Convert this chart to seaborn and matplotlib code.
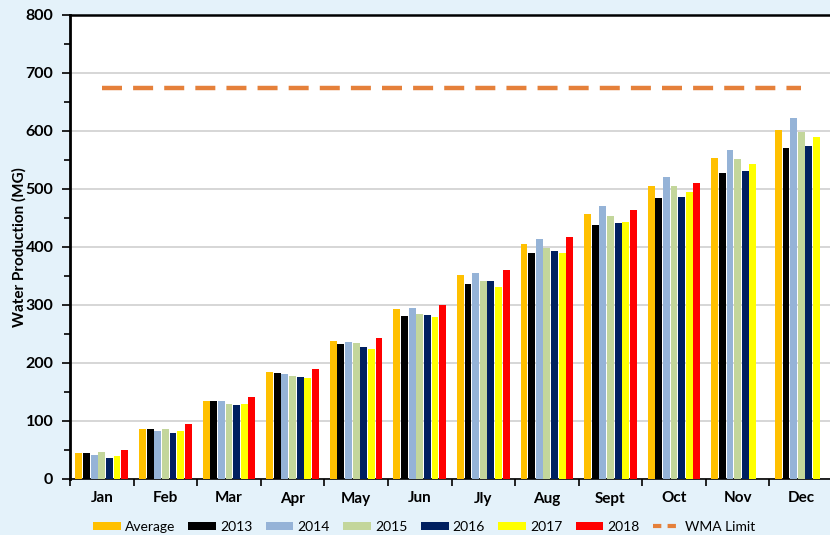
import matplotlib
matplotlib.use("Agg")
import matplotlib.pyplot as plt
import numpy as np
import pandas as pd
import seaborn as sns
from matplotlib.lines import Line2D
from matplotlib.patches import Patch
from matplotlib.ticker import MultipleLocator

months = ["Jan", "Feb", "Mar", "Apr", "May", "Jun", "Jly", "Aug", "Sept", "Oct", "Nov", "Dec"]
series = ["Average", "2013", "2014", "2015", "2016", "2017", "2018"]

average = [44, 87, 135, 185, 238, 293, 351, 406, 457, 506, 553, 601]
y2013 = [45, 86, 135, 183, 233, 281, 337, 389, 438, 484, 527, 570]
y2014 = [42, 83, 134, 181, 237, 294, 355, 414, 470, 520, 568, 623]
y2015 = [46, 87, 130, 177, 234, 285, 342, 399, 454, 505, 552, 599]
y2016 = [37, 79, 128, 176, 228, 283, 341, 393, 441, 486, 531, 575]
y2017 = [40, 83, 129, 175, 225, 279, 331, 389, 443, 494, 543, 589]
y2018 = [50, 95, 141, 189, 243, 300, 361, 418, 464, 511, np.nan, np.nan]

wma_limit = 675

colors = {
    "Average": "#FFC000",
    "2013": "#000000",
    "2014": "#95B3D7",
    "2015": "#C3D69B",
    "2016": "#002060",
    "2017": "#FFFF00",
    "2018": "#FF0000",
}
limit_color = "#E5803A"
bg = "#E4F2FA"

values = [average, y2013, y2014, y2015, y2016, y2017, y2018]
rows = []
for name, vals in zip(series, values):
    for m, v in zip(months, vals):
        rows.append({"month": m, "series": name, "value": v})
df = pd.DataFrame(rows).dropna()

plt.rcParams["font.family"] = ["Lato", "DejaVu Sans"]

fig = plt.figure(figsize=(8.3, 5.35), dpi=100, facecolor=bg)
ax = fig.add_axes([70 / 830, 56 / 535, 763 / 830, 464 / 535])
ax.set_facecolor("white")

sns.barplot(data=df, x="month", y="value", hue="series", order=months,
            hue_order=series, palette=colors, saturation=1, width=0.84, gap=0.1,
            errorbar=None, legend=False, ax=ax, zorder=3)

ax.plot([0, 11], [wma_limit, wma_limit], color=limit_color, lw=3.2,
        ls=(0, (4.5, 2.5)), zorder=4)

ax.set_xlim(-0.5, 11.5)
ax.set_ylim(0, 800)
ax.yaxis.set_major_locator(MultipleLocator(100))
ax.yaxis.set_minor_locator(MultipleLocator(50))
ax.grid(axis="y", which="major", color="#D0D0D0", lw=1.2, zorder=0)
ax.set_axisbelow(True)

ax.set_xticks(range(len(months)))
ax.set_xticklabels(months, fontsize=11, fontweight="bold")
ax.set_xticks(np.arange(-0.5, 12, 1), minor=True)
ax.tick_params(axis="x", which="major", length=0, pad=9)
ax.tick_params(axis="x", which="minor", length=5, width=1.2, direction="out")
ax.tick_params(axis="y", which="major", length=6, width=1.2, labelsize=11.5, pad=6)
ax.tick_params(axis="y", which="minor", length=4, width=1.2)
for lab in ax.get_yticklabels():
    lab.set_fontweight("bold")

ax.set_xlabel("")
ax.set_ylabel("Water Production (MG)", fontsize=11, fontweight="bold")
ax.yaxis.set_label_coords(-0.057, 0.5)

for side in ["left", "top", "bottom"]:
    ax.spines[side].set_color("black")
ax.spines["left"].set_linewidth(2)
ax.spines["top"].set_linewidth(1.8)
ax.spines["bottom"].set_linewidth(1.2)
ax.spines["right"].set_visible(False)

handles = [Patch(facecolor=colors[s], edgecolor="none", label=s) for s in series]
handles.append(Line2D([0], [0], color=limit_color, lw=3, ls=(0, (2, 1.5)), label="WMA Limit"))
fig.legend(handles=handles, loc="lower center", bbox_to_anchor=(424 / 830, -0.019),
           ncol=8, frameon=False, fontsize=10, handlelength=2.0, handleheight=0.5,
           columnspacing=0.95, handletextpad=0.3)

fig.savefig("out.png", dpi=100, facecolor=bg)
